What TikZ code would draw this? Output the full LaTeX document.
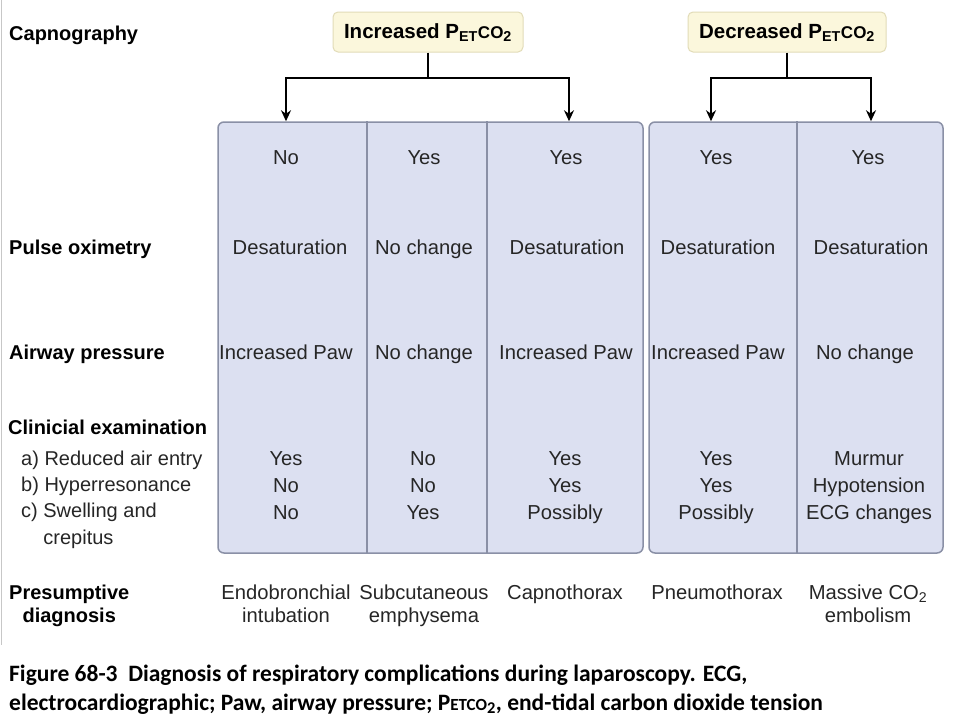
\documentclass[tikz,border=0pt]{standalone}
\usepackage{fontspec}
\setmainfont{Liberation Sans}
\newfontfamily\capfont{Carlito}
\usetikzlibrary{arrows.meta}
\definecolor{boxfill}{HTML}{DCE0F1}
\definecolor{boxline}{HTML}{8A90A6}
\definecolor{yfill}{HTML}{FBF7DC}
\definecolor{yline}{HTML}{E2DCB8}
\definecolor{txt}{HTML}{262626}
\begin{document}
\begin{tikzpicture}[x=1pt,y=-1pt,
  cell/.style={font=\fontsize{20.2}{26.8}\selectfont, text=txt, align=center, inner sep=0pt, anchor=base},
  lab/.style={font=\fontsize{20}{23}\selectfont\bfseries, anchor=base west, text=black, inner sep=0pt},
  subl/.style={font=\fontsize{20}{26.3}\selectfont, anchor=base west, text=txt, align=left, inner sep=0pt},
  group/.style={draw=boxline, fill=boxfill, rounded corners=6pt, line width=1.5pt, inner sep=0pt},
  divider/.style={draw=boxline, line width=1.2pt},
  ybox/.style={draw=yline, fill=yfill, rounded corners=5pt, line width=1pt, inner sep=0pt, minimum height=40pt, text height=15pt, text depth=2pt, font=\fontsize{20.5}{23}\selectfont\bfseries},
  arr/.style={{Stealth[length=11pt,width=10pt]}-{Stealth[length=11pt,width=10pt]}, line width=1.6pt},
  lin/.style={line width=1.6pt},
  captext/.style={font=\capfont\bfseries\fontsize{23.5}{29}\selectfont, anchor=base west, align=left, inner sep=0pt}]
\useasboundingbox (0,0) rectangle (960,720);
\fill[white] (0,0) rectangle (960,720);
\draw[black!22, line width=1pt] (1,0) -- (1,645);

% group boxes
\node[group, minimum width=425pt, minimum height=431pt] (g1) at (430.5,337.5) {};
\node[group, minimum width=294pt, minimum height=431pt] (g2) at (796,337.5) {};
\draw[divider] (367,0 |- g1.north) -- (367,0 |- g1.south);
\draw[divider] (487,0 |- g1.north) -- (487,0 |- g1.south);
\draw[divider] (797,0 |- g2.north) -- (797,0 |- g2.south);

% top boxes
\node[ybox, minimum width=190pt] (inc) at (428,32) {Increased P\textsubscript{ET}{\fontsize{17}{17}\selectfont CO}\textsubscript{2}};
\node[ybox, minimum width=198pt] (dec) at (787,32) {Decreased P\textsubscript{ET}{\fontsize{17}{17}\selectfont CO}\textsubscript{2}};

% connectors
\coordinate (j1) at (428,78);
\coordinate (a1) at (286,78);
\coordinate (a2) at (569,78);
\coordinate (j2) at (787,78);
\coordinate (a3) at (711,78);
\coordinate (a4) at (871,78);
\draw[lin] (inc.south) -- (j1);
\draw[arr] (a1 |- g1.north) -- (a1) -- (a2) -- (a2 |- g1.north);
\draw[lin] (dec.south) -- (j2);
\draw[arr] (a3 |- g2.north) -- (a3) -- (a4) -- (a4 |- g2.north);

% left labels
\node[lab] (lcap) at (9,40) {Capnography};
\node[lab] (lpulse) at (9,254) {Pulse oximetry};
\node[lab] (lair) at (9,359) {Airway pressure};
\node[lab] (lclin) at (8,434) {Clinicial examination};
\node[subl] (lsub) at (21,544) {a) Reduced air entry\\b) Hyperresonance\\c) Swelling and\\\hphantom{c) }crepitus};
\node[lab, align=center] (ldiag) at (9,622) {Presumptive\\diagnosis};

% capnography row
\node[cell] (c11) at (286,164) {No};
\node[cell] (c12) at (424,164) {Yes};
\node[cell] (c13) at (566,164) {Yes};
\node[cell] (c14) at (716,164) {Yes};
\node[cell] (c15) at (868,164) {Yes};
% pulse oximetry
\node[cell] (c21) at (290,254) {Desaturation};
\node[cell] (c22) at (424,254) {No change};
\node[cell] (c23) at (567,254) {Desaturation};
\node[cell] (c24) at (718,254) {Desaturation};
\node[cell] (c25) at (871,254) {Desaturation};
% airway pressure
\node[cell] (c31) at (286,359) {Increased Paw};
\node[cell] (c32) at (424,359) {No change};
\node[cell] (c33) at (566,359) {Increased Paw};
\node[cell] (c34) at (718,359) {Increased Paw};
\node[cell] (c35) at (865,359) {No change};
% clinical
\node[cell] (c41) at (286,519.5) {Yes\\No\\No};
\node[cell] (c42) at (423,519.5) {No\\No\\Yes};
\node[cell] (c43) at (565,519.5) {Yes\\Yes\\Possibly};
\node[cell] (c44) at (716,519.5) {Yes\\Yes\\Possibly};
\node[cell] (c45) at (869,519.5) {Murmur\\Hypotension\\ECG changes};
% diagnosis
\node[cell, font=\fontsize{20.2}{23}\selectfont] (d1) at (286,622) {Endobronchial\\intubation};
\node[cell, font=\fontsize{20.2}{23}\selectfont] (d2) at (424,622) {Subcutaneous\\emphysema};
\node[cell] (d3) at (565,599) {Capnothorax};
\node[cell] (d4) at (717,599) {Pneumothorax};
\node[cell, font=\fontsize{20.2}{23}\selectfont] (d5) at (868,622) {Massive CO\textsubscript{2}\\embolism};

% caption
\node[captext] (caption) at (9,710) {Figure 68-3\ \ Diagnosis of respiratory complications during laparoscopy. ECG,\\electrocardiographic; Paw, airway pressure; P{\fontsize{17}{17}\selectfont ETCO}\textsubscript{2}, end-tidal carbon dioxide tension};
\end{tikzpicture}
\end{document}
